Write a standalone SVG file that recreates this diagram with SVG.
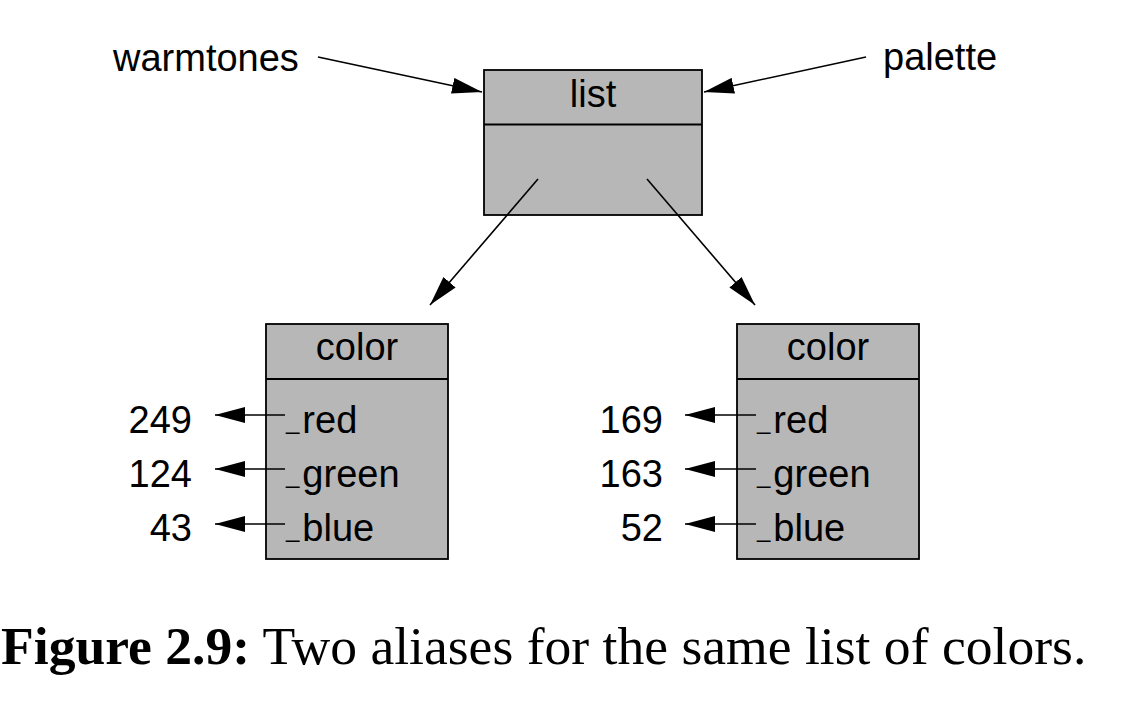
<svg xmlns="http://www.w3.org/2000/svg" width="1122" height="704" viewBox="0 0 1122 704">
<style>
.box{fill:#b7b7b7;stroke:#000;stroke-width:1.8}
.div{stroke:#000;stroke-width:1.8}
.t{font-family:"Liberation Sans",Arial,sans-serif;font-size:38px;fill:#000}
.c{text-anchor:middle}
.r{text-anchor:end}
.u{font-size:24px}
.edge{stroke:#000;stroke-width:1.6;fill:none;marker-end:url(#ah)}
.cap{font-family:"Liberation Serif","Times New Roman",serif;font-size:53.6px;fill:#000}
</style>
<defs>
<marker id="ah" viewBox="0 0 30 16" refX="30" refY="8" markerWidth="30" markerHeight="16" markerUnits="userSpaceOnUse" orient="auto">
<path d="M0,0 L30,8 L0,16 z" fill="#000"/>
</marker>
</defs>
<rect width="1122" height="704" fill="#fff"/>
<g id="warmtones"><text class="t" x="113" y="71">warmtones</text></g>
<g id="palette"><text class="t" x="883" y="70">palette</text></g>
<g id="list">
<rect class="box" x="484" y="70" width="218" height="145"/>
<line class="div" x1="484" y1="124.5" x2="702" y2="124.5"/>
<text class="t c" x="593" y="107">list</text>
</g>
<g id="color1">
<rect class="box" x="266" y="324" width="182" height="235"/>
<line class="div" x1="266" y1="379" x2="448" y2="379"/>
<text class="t c" x="357" y="360">color</text>
<text class="t" x="286" y="433"><tspan class="u" dy="-4">_</tspan><tspan dx="3" dy="4">red</tspan></text>
<text class="t" x="286" y="487"><tspan class="u" dy="-4">_</tspan><tspan dx="3" dy="4">green</tspan></text>
<text class="t" x="286" y="541"><tspan class="u" dy="-4">_</tspan><tspan dx="3" dy="4">blue</tspan></text>
</g>
<g id="values1">
<text class="t r" x="192" y="433">249</text>
<text class="t r" x="192" y="487">124</text>
<text class="t r" x="192" y="541">43</text>
</g>
<g id="color2">
<rect class="box" x="737" y="324" width="182" height="235"/>
<line class="div" x1="737" y1="379" x2="919" y2="379"/>
<text class="t c" x="828" y="360">color</text>
<text class="t" x="757" y="433"><tspan class="u" dy="-4">_</tspan><tspan dx="3" dy="4">red</tspan></text>
<text class="t" x="757" y="487"><tspan class="u" dy="-4">_</tspan><tspan dx="3" dy="4">green</tspan></text>
<text class="t" x="757" y="541"><tspan class="u" dy="-4">_</tspan><tspan dx="3" dy="4">blue</tspan></text>
</g>
<g id="values2">
<text class="t r" x="663" y="433">169</text>
<text class="t r" x="663" y="487">163</text>
<text class="t r" x="663" y="541">52</text>
</g>
<g id="connectors">
<line class="edge" x1="318" y1="57" x2="482" y2="92"/>
<line class="edge" x1="866" y1="57" x2="704" y2="92"/>
<line class="edge" x1="538" y1="179" x2="430" y2="305"/>
<line class="edge" x1="647" y1="179" x2="755" y2="305"/>
<line class="edge" x1="285" y1="415" x2="215" y2="415"/>
<line class="edge" x1="285" y1="469" x2="215" y2="469"/>
<line class="edge" x1="285" y1="524" x2="215" y2="524"/>
<line class="edge" x1="756" y1="415" x2="685" y2="415"/>
<line class="edge" x1="756" y1="469" x2="685" y2="469"/>
<line class="edge" x1="756" y1="524" x2="685" y2="524"/>
</g>
<g id="caption"><text class="cap" x="1" y="664"><tspan font-weight="bold">Figure 2.9:</tspan> Two aliases for the same list of colors.</text></g>
</svg>
